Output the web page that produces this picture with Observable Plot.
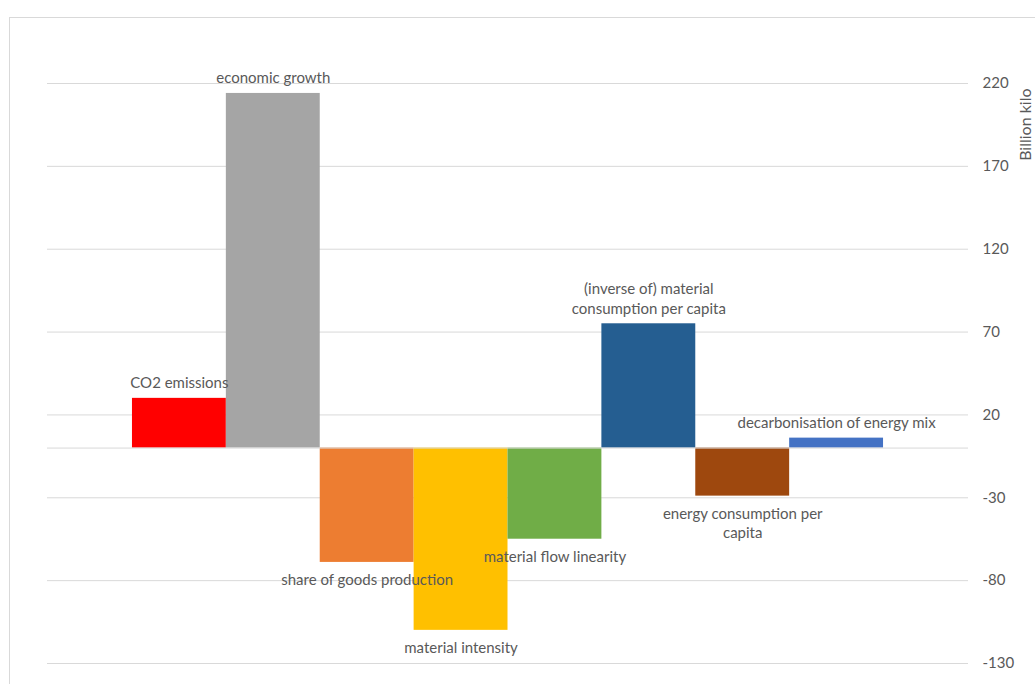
<!DOCTYPE html>
<html><head>
<meta charset="utf-8">
<script src="https://cdn.jsdelivr.net/npm/d3@7"></script>
<script src="https://cdn.jsdelivr.net/npm/@observablehq/plot@0.6"></script>
<style>
html,body{margin:0;padding:0;background:#fff;font-family:Lato, sans-serif;overflow:hidden;}
#frame{position:absolute;left:9px;top:17px;width:1026px;height:667px;border-left:1px solid #d9d9d9;border-top:1px solid #d9d9d9;overflow:hidden;}
#frame svg{display:block;}
</style></head><body><div id="frame"></div>
<script>
const categories = ["CO2 emissions", "economic growth", "share of goods production", "material intensity", "material flow linearity", "(inverse of) material consumption per capita", "energy consumption per capita", "decarbonisation of energy mix"];
const labels = ["CO2 emissions", "economic growth", "share of goods production", "material intensity", "material flow linearity", "(inverse of) material\nconsumption per capita", "energy consumption per\ncapita", "decarbonisation of energy mix"];
const values = [30, 214, -69, -110, -55, 75, -29, 6];
const colors = ["#FF0000", "#A5A5A5", "#ED7D31", "#FFC000", "#70AD47", "#255E91", "#9E480E", "#4472C4"];
const yTicks = [220, 170, 120, 70, 20, -30, -80, -130];
const axisTitle = "Billion kilo";

const data = categories.map((c, i) => ({category: c, label: labels[i], value: values[i], color: colors[i]}));

const chart = Plot.plot({
  width: 1026, height: 666,
  marginLeft: 37, marginRight: 68, marginTop: 65, marginBottom: 21,
  style: {fontFamily: "Lato, sans-serif", fontSize: "15px", color: "#595959", background: "transparent", overflow: "visible"},
  x: {domain: categories, axis: null, paddingInner: 0, paddingOuter: 0.905, round: false},
  y: {domain: [-130, 220], axis: null},
  color: {type: "identity"},
  marks: [
    Plot.ruleY(yTicks, {stroke: "#d9d9d9", strokeWidth: 1}),
    Plot.barY(data, {x: "category", y: "value", fill: "color"}),
    Plot.ruleY([0], {stroke: "#d9d9d9", strokeWidth: 1}),
    Plot.axisY({anchor: "right", ticks: yTicks, tickSize: 0, tickPadding: 14, label: null, fontSize: 15, textAnchor: "start", fill: "#595959", tickFormat: d => String(d)}),
    Plot.text(data.filter(d => d.value > 0), {x: "category", y: "value", text: "label", lineAnchor: "bottom", dy: -10, lineHeight: 1.3, fill: "#595959", fontSize: 15}),
    Plot.text(data.filter(d => d.value < 0), {x: "category", y: "value", text: "label", lineAnchor: "top", dy: 9, lineHeight: 1.3, fill: "#595959", fontSize: 15}),
    Plot.text([axisTitle], {frameAnchor: "top-right", rotate: -90, textAnchor: "end", dx: 51, dy: 5, fill: "#595959", fontSize: 16})
  ]
});
document.getElementById("frame").appendChild(chart);
</script>
</body></html>
